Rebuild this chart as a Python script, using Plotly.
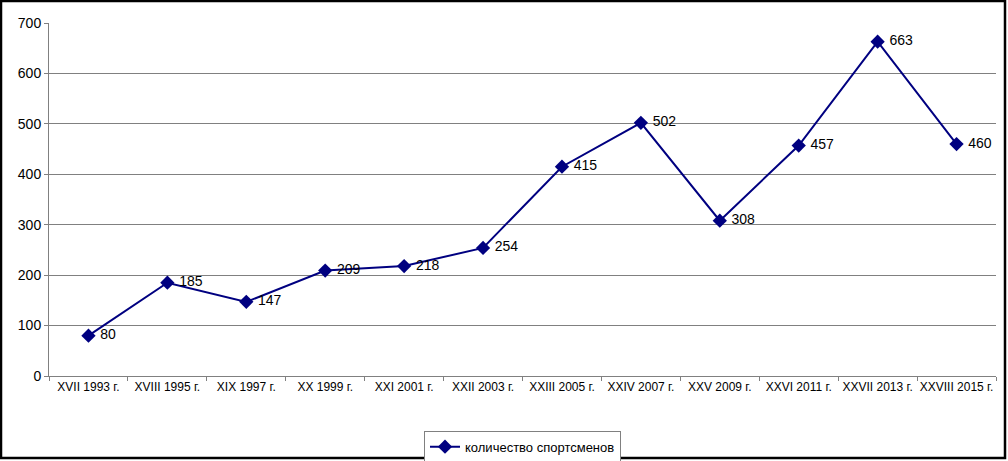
import plotly.graph_objects as go

categories = ["XVII 1993 г.", "XVIII 1995 г.", "XIX 1997 г.", "XX 1999 г.", "XXI 2001 г.",
              "XXII 2003 г.", "XXIII 2005 г.", "XXIV 2007 г.", "XXV 2009 г.", "XXVI 2011 г.",
              "XXVII 2013 г.", "XXVIII 2015 г."]
values = [80, 185, 147, 209, 218, 254, 415, 502, 308, 457, 663, 460]
series_name = "количество спортсменов"
y_ticks = [0, 100, 200, 300, 400, 500, 600, 700]

font = "Liberation Sans, Arial, sans-serif"

fig = go.Figure()
fig.add_trace(go.Scatter(
    x=categories, y=values, name=series_name,
    mode="lines+markers+text",
    line=dict(color="#000080", width=2),
    marker=dict(symbol="diamond", size=11, color="#000080"),
    text=[f" {v}" for v in values],
    textposition="middle right",
    textfont=dict(family=font, size=14, color="black"),
    cliponaxis=False,
))

fig.update_layout(
    width=1008, height=461,
    margin=dict(l=49, r=12, t=23, b=85, autoexpand=False),
    paper_bgcolor="white", plot_bgcolor="white",
    font=dict(family=font, size=13, color="black"),
    showlegend=True,
    legend=dict(orientation="h", x=0.5, xanchor="center", y=-0.155, yanchor="top",
                bordercolor="#808080", borderwidth=1, bgcolor="white",
                font=dict(family=font, size=13, color="black"),
                itemwidth=30),
    xaxis=dict(type="category", showgrid=False, showline=True, linecolor="#808080",
               linewidth=1, ticks="outside", ticklen=4, tickcolor="#808080",
               tickson="boundaries", tickfont=dict(family=font, size=12, color="black"),
               tickangle=0, range=[-0.5, len(categories) - 0.5], automargin=False),
    yaxis=dict(range=[0, 700], tickvals=y_ticks, showgrid=True, gridcolor="#808080",
               gridwidth=1, showline=True, linecolor="#808080", linewidth=1,
               ticks="outside", ticklen=4, tickcolor="#808080", zeroline=False,
               automargin=False,
               tickfont=dict(family=font, size=14, color="black")),
    shapes=[dict(type="rect", xref="paper", yref="paper", x0=-48/947, x1=1+9/947,
                 y0=-82/353, y1=1+22/353, line=dict(color="black", width=2.5))],
)

fig.write_html("out.html", config={"displayModeBar": False},
               post_script="document.body.style.margin='0';document.body.style.overflow='hidden';")
